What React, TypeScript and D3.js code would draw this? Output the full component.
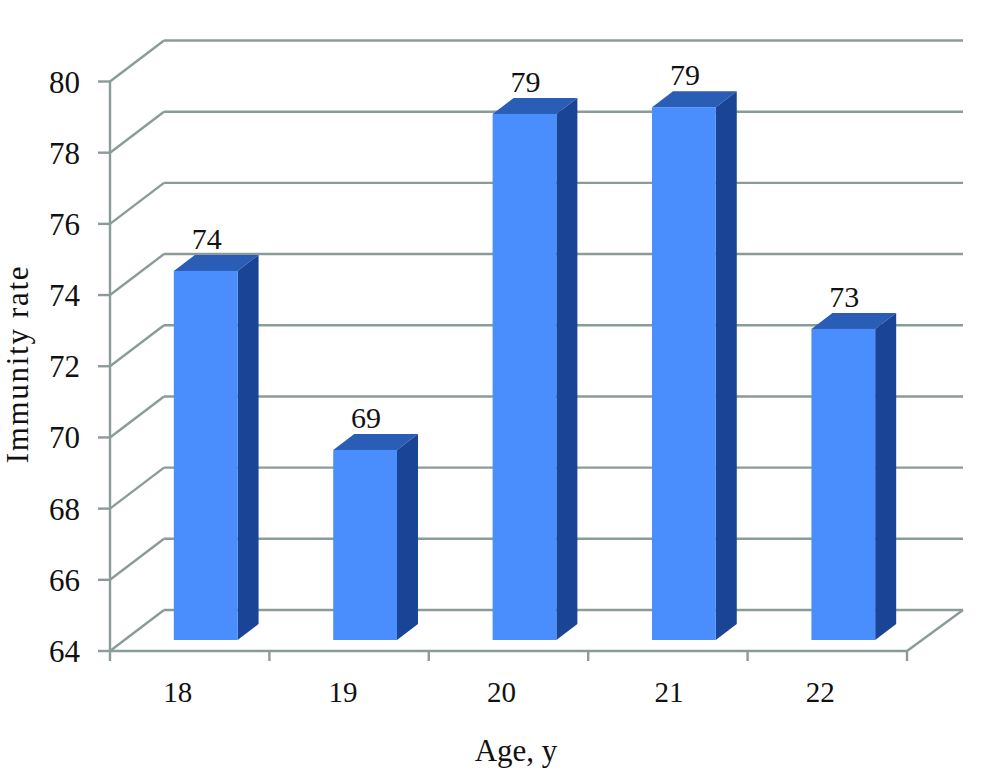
import { useEffect, useRef } from "react"
import * as d3 from "d3"

const ages = ["18", "19", "20", "21", "22"]
const immunity = [74.37, 69.34, 78.78, 78.97, 72.74]
const valueLabels = ["74", "69", "79", "79", "73"]
const yTicks = [64, 66, 68, 70, 72, 74, 76, 78, 80]

const GRID = "#8b9b99"
const FONT = "'Liberation Serif', serif"

export default function App() {
  const svgRef = useRef<SVGSVGElement>(null)

  useEffect(() => {
    if (!svgRef.current) return

    const svg = d3.select(svgRef.current)
    svg.selectAll("*").remove()

    const left = 110
    const right = 907
    const floorY = 651
    const topY = 81.5
    // depth of the back wall and of the bars, the fake 3d bit
    const wall = { dx: 54, dy: -41 }
    const backRight = 963
    const barShift = { dx: 16, dy: -11 }
    const barDepth = { dx: 21, dy: -16 }
    // the age labels are not evenly spaced in the original
    const ageNudge = [-12, -6, -7, 1, -7]

    const x = d3.scaleBand().domain(ages).range([left, right])
    const y = d3.scaleLinear().domain([64, 80]).range([floorY, topY])
    const barWidth = x.bandwidth() * 0.4

    const line = (x1: number, y1: number, x2: number, y2: number) =>
      svg
        .append("line")
        .attr("x1", x1)
        .attr("y1", y1)
        .attr("x2", x2)
        .attr("y2", y2)
        .attr("stroke", GRID)
        .attr("stroke-width", 2.4)

    yTicks.forEach((t) => {
      const py = y(t)
      line(left, py, left + wall.dx, py + wall.dy)
      line(left + wall.dx, py + wall.dy, backRight, py + wall.dy)
      line(98, py, left, py)
      svg
        .append("text")
        .attr("x", 80)
        .attr("y", py + 11)
        .attr("text-anchor", "end")
        .style("font-family", FONT)
        .style("font-size", "31px")
        .style("fill", "#111")
        .text(t)
    })

    line(right, floorY, backRight, floorY + wall.dy)
    line(left, topY, left, floorY)
    line(left, floorY, right, floorY)

    d3.range(ages.length + 1).forEach((i) => {
      const px = left + i * x.step()
      line(px, floorY, px, 661)
    })

    const area = (pts: [number, number][]) => d3.line()(pts) + "Z"

    ages.forEach((age, i) => {
      const x0 = (x(age) as number) + (x.bandwidth() - barWidth) / 2 + barShift.dx
      const x1 = x0 + barWidth
      const base = floorY + barShift.dy
      const top = base - (y(64) - y(immunity[i]))

      svg
        .append("path")
        .attr("fill", "#2a5db6")
        .attr(
          "d",
          area([
            [x0, top],
            [x0 + barDepth.dx, top + barDepth.dy],
            [x1 + barDepth.dx, top + barDepth.dy],
            [x1, top],
          ]),
        )
      svg
        .append("path")
        .attr("fill", "#1a4596")
        .attr(
          "d",
          area([
            [x1, top],
            [x1 + barDepth.dx, top + barDepth.dy],
            [x1 + barDepth.dx, base + barDepth.dy],
            [x1, base],
          ]),
        )
      svg
        .append("rect")
        .attr("x", x0)
        .attr("y", top)
        .attr("width", barWidth)
        .attr("height", base - top)
        .attr("fill", "#4a8dfd")

      svg
        .append("text")
        .attr("x", (x0 + x1) / 2 + 1)
        .attr("y", top - 22)
        .attr("text-anchor", "middle")
        .style("font-family", FONT)
        .style("font-size", "30px")
        .style("fill", "#111")
        .text(valueLabels[i])

      svg
        .append("text")
        .attr("x", (x(age) as number) + x.bandwidth() / 2 + ageNudge[i])
        .attr("y", 702)
        .attr("text-anchor", "middle")
        .style("font-family", FONT)
        .style("font-size", "29px")
        .style("fill", "#111")
        .text(age)
    })

    svg
      .append("text")
      .attr("x", 516)
      .attr("y", 761)
      .attr("text-anchor", "middle")
      .style("font-family", FONT)
      .style("font-size", "31px")
      .style("fill", "#111")
      .text("Age, y")

    svg
      .append("text")
      .attr("transform", "translate(28,364) rotate(-90)")
      .attr("text-anchor", "middle")
      .style("font-family", FONT)
      .style("font-size", "31px")
      .style("letter-spacing", "1.7px")
      .style("fill", "#111")
      .text("Immunity rate")
  }, [])

  return (
    <svg
      ref={svgRef}
      width={1000}
      height={769}
      style={{ position: "absolute", left: 0, top: 0, background: "#fff" }}
    ></svg>
  )
}
